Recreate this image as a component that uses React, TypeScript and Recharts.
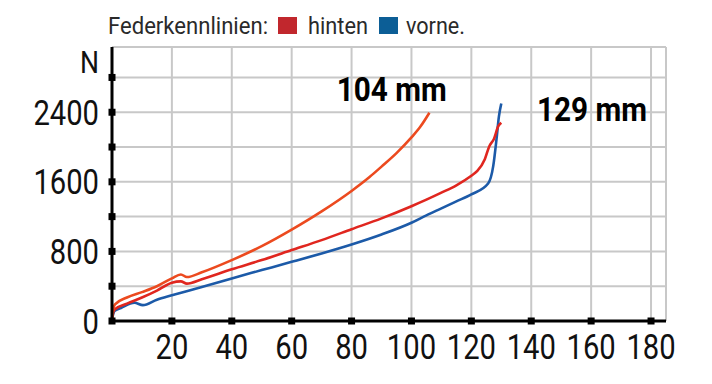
import React from "react";
import { LineChart, Line, XAxis, YAxis, CartesianGrid, ReferenceDot } from "recharts";

// 104 mm, hinten (obere Kurve)
const hinten104Mm = [0, 0.5, 1, 5, 10, 15, 20, 23, 25, 30, 40, 50, 60, 70, 80, 86, 90, 95, 100, 103, 106];
const hinten104N = [30, 150, 190, 270, 332, 400, 490, 535, 505, 560, 700, 860, 1050, 1260, 1495, 1655, 1775, 1930, 2110, 2235, 2394];

// 129 mm, hinten
const hinten129Mm = [0, 0.5, 1, 5, 10, 15, 20, 23, 25, 30, 40, 50, 60, 70, 80, 90, 100, 105, 110, 115, 120, 122, 124.5, 126, 127.5, 129, 130];
const hinten129N = [20, 110, 135, 200, 270, 350, 440, 455, 430, 480, 595, 700, 815, 930, 1055, 1180, 1320, 1395, 1475, 1560, 1670, 1725, 1860, 2010, 2090, 2240, 2280];

// 129 mm, vorne
const vorneMm = [0, 0.8, 3, 7.5, 10.3, 15, 20, 30, 40, 50, 60, 70, 80, 90, 100, 105, 110, 115, 120, 125.6, 127.3, 128.4, 129.2, 130];
const vorneN = [20, 114, 150, 210, 182, 245, 295, 390, 490, 585, 680, 777, 880, 995, 1130, 1215, 1295, 1375, 1455, 1580, 1780, 2090, 2350, 2500];

const xTicks = [20, 40, 60, 80, 100, 120, 140, 160, 180];
const yTicks = [0, 400, 800, 1200, 1600, 2000, 2400, 2800];
const yLabels = [0, 800, 1600, 2400];

const zip = (mm: number[], n: number[]) => mm.map((m, i) => ({ mm: m, n: n[i] }));

const FONT = "Roboto, 'Liberation Sans', sans-serif";
const DIGIT = 16.4;

const XTick = (props: any) => {
  const { x, y, payload } = props;
  const s = String(payload.value);
  return (
    <g>
      <rect x={x - 3.5} y={y - 3.5} width={7} height={7} fill="#000" />
      <text
        x={x - (s.length * DIGIT) / 2}
        y={y + 38}
        textLength={s.length * DIGIT}
        lengthAdjust="spacingAndGlyphs"
        fontSize={35}
        fontFamily={FONT}
        fill="#111"
      >
        {s}
      </text>
    </g>
  );
};

const YTick = (props: any) => {
  const { x, y, payload } = props;
  const s = String(payload.value);
  return (
    <g>
      <rect x={x - 3.5} y={y - 3.5} width={7} height={7} fill="#000" />
      {yLabels.includes(payload.value) && (
        <text
          x={x - 13 - s.length * DIGIT}
          y={y + 12.5}
          textLength={s.length * DIGIT}
          lengthAdjust="spacingAndGlyphs"
          fontSize={35}
          fontFamily={FONT}
          fill="#111"
        >
          {s}
        </text>
      )}
    </g>
  );
};

const boldLabel = (text: string) => (props: any) => {
  const { viewBox } = props;
  const cx = viewBox.x + (viewBox.width || 0) / 2;
  const cy = viewBox.y + (viewBox.height || 0) / 2;
  return (
    <text
      x={cx - 55}
      y={cy + 12}
      textLength={110}
      lengthAdjust="spacingAndGlyphs"
      fontSize={34}
      fontWeight="bold"
      fontFamily={FONT}
      fill="#000"
    >
      {text}
    </text>
  );
};

export default function App() {
  return (
    <div style={{ position: "fixed", left: 0, top: 0, width: 712, height: 384, background: "#fff" }}>
      <svg width={712} height={384} style={{ position: "absolute", left: 0, top: 0, pointerEvents: "none" }}>
        <g fontFamily={FONT} fontSize={24} fill="#2a2a2a">
          <text x={108} y={34} textLength={160} lengthAdjust="spacingAndGlyphs">Federkennlinien:</text>
          <rect x={278} y={17} width={19} height={17} fill="#c1272d" />
          <text x={308} y={34} textLength={60} lengthAdjust="spacingAndGlyphs">hinten</text>
          <rect x={379} y={17} width={19} height={17} fill="#0c5e96" />
          <text x={406} y={34} textLength={59} lengthAdjust="spacingAndGlyphs">vorne.</text>
        </g>
        <text x={80} y={73} textLength={19} lengthAdjust="spacingAndGlyphs" fontFamily={FONT} fontSize={32} fill="#111">
          N
        </text>
      </svg>
      <LineChart width={712} height={384} margin={{ top: 47, right: 46, bottom: 0, left: 0 }}>
        <CartesianGrid stroke="#c8c8c8" strokeWidth={2} />
        <XAxis
          dataKey="mm"
          type="number"
          domain={[0, 185]}
          ticks={xTicks}
          height={63}
          axisLine={{ stroke: "#000", strokeWidth: 3 }}
          tickLine={false}
          tickSize={0}
          tickMargin={0}
          tick={<XTick />}
          interval={0}
        />
        <YAxis
          type="number"
          domain={[0, 3150]}
          ticks={yTicks}
          width={112}
          axisLine={{ stroke: "#000", strokeWidth: 3 }}
          tickLine={false}
          tickSize={0}
          tickMargin={0}
          tick={<YTick />}
          interval={0}
        />
        <Line data={zip(vorneMm, vorneN)} dataKey="n" type="monotone" stroke="#1c5aa8" strokeWidth={2.6} dot={false} isAnimationActive={false} />
        <Line data={zip(hinten129Mm, hinten129N)} dataKey="n" type="monotone" stroke="#e0261f" strokeWidth={2.6} dot={false} isAnimationActive={false} />
        <Line data={zip(hinten104Mm, hinten104N)} dataKey="n" type="monotone" stroke="#ec4a1f" strokeWidth={2.6} dot={false} isAnimationActive={false} />
        <ReferenceDot x={93.4} y={2662} r={0} fill="none" stroke="none" label={{ content: boldLabel("104 mm") }} />
        <ReferenceDot x={160.3} y={2441} r={0} fill="none" stroke="none" label={{ content: boldLabel("129 mm") }} />
      </LineChart>
    </div>
  );
}
